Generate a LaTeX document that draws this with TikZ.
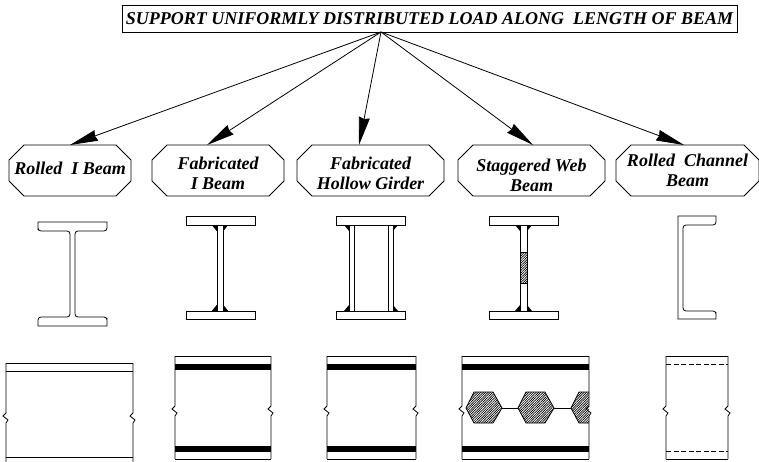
\documentclass[tikz,border=0pt]{standalone}
\usepackage{fontspec}
\setmainfont{Liberation Serif}
\usetikzlibrary{arrows.meta,patterns.meta}
\tikzset{
  beamlabel/.style={minimum height=51pt, inner sep=0pt, outer sep=0pt, align=center, font=\fontsize{18}{20}\selectfont\bfseries\itshape},
  loadarrow/.style={-{Stealth[length=28pt,width=11pt,inset=1.5pt]}},
  hatched/.style={pattern={Lines[angle=45,distance=1.7pt,line width=.7pt]}},
  band/.style={fill=black, draw=none}
}
% side of a beam seen from the front, with its break mark: x, top, bottom, y of break
\newcommand{\sidebreak}[4]{\draw (#1,#2) -- (#1,#4) -- ++(-3,3) -- ++(5,4) -- ++(-2,3) -- (#1,#3);}
% flange plates of a fabricated section
\newcommand{\flanges}[1]{
  \draw (#1,216) rectangle ++(69,9);
  \draw (#1,311) rectangle ++(69,8);}
% welds at both ends of a web face: x of face, reach to the side
\newcommand{\weld}[2]{
  \fill (#1,225) -- ++(#2,0) -- (#1,231) -- cycle;
  \fill (#1,311) -- ++(#2,0) -- (#1,305) -- cycle;}
% struts that move a label inside its box
\newcommand{\pushdown}[1]{\rule{0pt}{#1}}
\newcommand{\pushup}[1]{\rule[-#1]{0pt}{#1}}
\begin{document}
\begin{tikzpicture}[x=1pt, y=-1pt, line width=.8pt]
      \useasboundingbox (0,0) rectangle (759,462);
      % top
      \node[draw, inner sep=0pt, minimum width=615pt, minimum height=27pt, font=\fontsize{18}{20}\selectfont\bfseries\itshape] (load) at (429.5,19) {SUPPORT UNIFORMLY DISTRIBUTED LOAD ALONG\ \ LENGTH OF BEAM};
      \node[beamlabel, minimum width=122pt] (rolled) at (70,170.5) {\pushup{4pt}Rolled\ \ I Beam};
      \node[beamlabel, minimum width=132pt] (fab) at (218,170.5) {\pushdown{18pt}Fabricated\\I Beam};
      \node[beamlabel, minimum width=147pt] (hollow) at (370.5,170.5) {\pushdown{18pt}Fabricated\\Hollow Girder};
      \node[beamlabel, minimum width=147pt] (stag) at (531.5,170.5) {\pushdown{22pt}Staggered Web\\Beam};
      \node[beamlabel, minimum width=143pt] (chan) at (687.5,170.5) {Rolled\ \ Channel\\Beam};
      \foreach \n in {rolled,fab,hollow,stag,chan}
        \draw ([xshift=15pt]\n.north west) -- ([xshift=-15pt]\n.north east) -- ([yshift=-15pt]\n.north east) -- ([yshift=15pt]\n.south east)
          -- ([xshift=-15pt]\n.south east) -- ([xshift=15pt]\n.south west) -- ([yshift=15pt]\n.south west) -- ([yshift=-15pt]\n.north west) -- cycle;
      \coordinate (hub) at (381,32);
      \draw[loadarrow] (hub) -- (rolled.north);
      \draw[loadarrow] (hub) -- ([xshift=-11pt]fab.north);
      \draw[loadarrow] (hub) -- ([xshift=-11.5pt]hollow.north);
      \draw[loadarrow] (hub) -- ([xshift=1.5pt]stag.north);
      \draw[loadarrow] (hub) -- ([xshift=-3.5pt]chan.north);

      % sections
      \draw (38,222) -- (107,222) -- (107,227) [rounded corners=3pt] -- (107,231) -- (75,231) -- (75,317) -- (107,317) -- (107,321) [sharp corners] -- (107,326)
        -- (38,326) -- (38,321) [rounded corners=3pt] -- (38,317) -- (70,317) -- (70,231) -- (38,231) -- (38,227) [sharp corners] -- cycle;
      \foreach \x in {186,336,489} \flanges{\x}
      \weld{217}{-5} \weld{223}{5}
      \draw (217,225) -- (217,311) (223,225) -- (223,311);
      \weld{349}{-5} \weld{393}{5}
      \draw (349,225) -- (349,311) (354,225) -- (354,311) (388,225) -- (388,311) (393,225) -- (393,311);
      \weld{520}{-5} \weld{527}{5}
      \draw (520,225) -- (520,311) (527,225) -- (527,311);
      \draw[hatched] (520,252) rectangle (527,283);
      \draw (678,216) -- (716,216) -- (716,221) [rounded corners=3pt] -- (716,225) -- (683,225) -- (683,311) -- (716,311) -- (716,315) [sharp corners] -- (716,319) -- (678,319) -- cycle;

      % elevations
      \draw (6,363) -- (133,363) (6,371) -- (133,371) (6,457) -- (133,457);
      \sidebreak{6}{363}{462}{413}
      \sidebreak{133}{363}{462}{413}
      \foreach \xa/\xb in {175/271,327/416,462/589,666/728} {
        \draw (\xa,356) -- (\xb,356) (\xa,459) -- (\xb,459);
        \sidebreak{\xa}{356}{459}{406}
        \sidebreak{\xb}{356}{459}{406}
      }
      \foreach \xa/\xb in {175/271,327/416,462/589} {
        \fill[band] (\xa,364) rectangle (\xb,370);
        \fill[band] (\xa,446) rectangle (\xb,452);
      }
      \draw[dash pattern=on 5pt off 2.5pt] (666,364) -- (728,364) (666,451) -- (728,451);
      \draw[hatched] (466,408) -- (474,392) -- (493,392) -- (502,408) -- (493,423) -- (474,423) -- cycle;
      \draw[hatched] (518,408) -- (526,392) -- (545,392) -- (554,408) -- (545,423) -- (526,423) -- cycle;
      \draw[hatched] (589,392) -- (579,392) -- (571,408) -- (579,423) -- (589,423);
      \draw (502,408) -- (518,408) (554,408) -- (571,408);
    \end{tikzpicture}
\end{document}
